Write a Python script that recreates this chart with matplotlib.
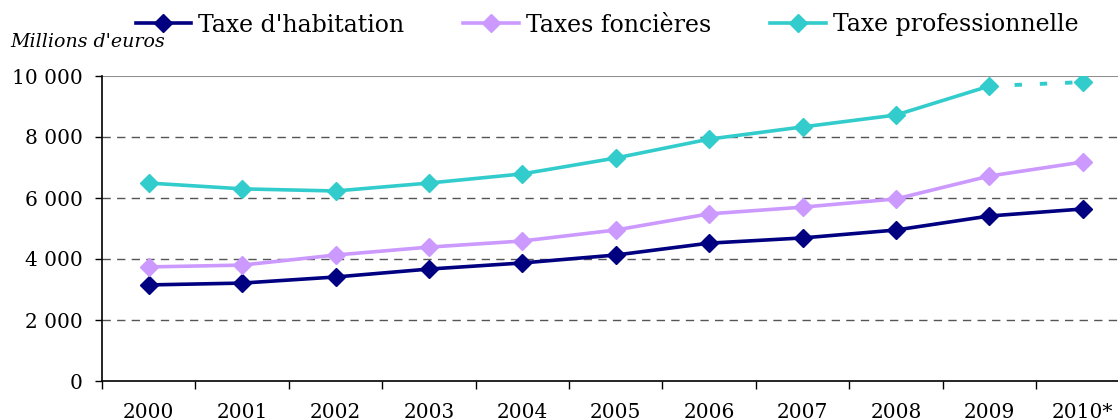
import matplotlib
matplotlib.use("Agg")
import matplotlib.pyplot as plt
from matplotlib.lines import Line2D

years = ["2000", "2001", "2002", "2003", "2004", "2005", "2006", "2007", "2008", "2009", "2010*"]
habitation = [3150, 3210, 3410, 3670, 3870, 4130, 4520, 4690, 4950, 5410, 5640]
foncieres = [3740, 3800, 4130, 4390, 4590, 4950, 5480, 5700, 5970, 6720, 7180]
professionnelle = [6490, 6300, 6230, 6490, 6790, 7310, 7930, 8330, 8720, 9670, 9800]
yticks = [0, 2000, 4000, 6000, 8000, 10000]
ytick_labels = ["0", "2 000", "4 000", "6 000", "8 000", "10 000"]
series_names = ["Taxe d'habitation", "Taxes foncières", "Taxe professionnelle"]

c_hab = "#000080"
c_fon = "#CC99FF"
c_pro = "#33CCCC"

plt.rcParams['font.family'] = ['DejaVu Serif']

W, H = 1118, 419
fig = plt.figure(figsize=(W / 100, H / 100), dpi=100)
ax = fig.add_axes([102.0 / W, 1 - 381 / H, (1129.4 - 102.0) / W, (381 - 76) / H])

x = list(range(len(years)))
ax.set_xlim(-0.5, len(years) - 0.5)
ax.set_ylim(0, 10000)

for yv in yticks[1:-1]:
    ax.axhline(yv, color="#555555", lw=1.0, ls=(0, (6, 4.5)), zorder=1)
ax.axhline(10000, color="#909090", lw=1.5, zorder=1)

lw = 2.6
ms = 9
ax.plot(x, habitation, color=c_hab, lw=lw, marker="D", ms=ms, zorder=3)
ax.plot(x, foncieres, color=c_fon, lw=lw, marker="D", ms=ms, zorder=3)
ax.plot(x[:-1], professionnelle[:-1], color=c_pro, lw=lw, marker="D", ms=ms, zorder=3)
ax.plot(x[-2:], professionnelle[-2:], color=c_pro, lw=2.8, ls=(0, (1.9, 4.6)), zorder=3)
ax.plot(x[-1:], professionnelle[-1:], color=c_pro, lw=0, marker="D", ms=ms, zorder=3)

for s in ["top", "right"]:
    ax.spines[s].set_visible(False)
ax.spines["left"].set_color("black")
ax.spines["bottom"].set_color("black")
ax.spines["left"].set_linewidth(1.2)
ax.spines["bottom"].set_linewidth(1.2)

ax.set_yticks(yticks)
ax.set_yticklabels(ytick_labels, fontsize=14.5)
ax.tick_params(axis="y", direction="out", length=5, width=1, pad=9)

ax.set_xticks([i - 0.5 for i in range(len(years) + 1)])
ax.set_xticklabels([])
ax.tick_params(axis="x", which="major", direction="out", length=6, width=1)
ax.set_xticks(x, minor=True)
ax.set_xticklabels(years, minor=True, fontsize=14.5)
ax.tick_params(axis="x", which="minor", length=0, pad=15.5)

fig.text(10 / W, 1 - 42 / H, "Millions d'euros", fontsize=13.7, style="italic", va="center", ha="left")

handles = [Line2D([], [], color=c, lw=lw, marker="D", ms=ms) for c in (c_hab, c_fon, c_pro)]
fig.legend(handles, series_names, loc="center", bbox_to_anchor=(607 / W, 1 - 25 / H), ncol=3,
           frameon=False, fontsize=17, handlelength=2.35, handletextpad=0.3, columnspacing=2.5,
           borderpad=0)

fig.savefig("out.png", dpi=100)
